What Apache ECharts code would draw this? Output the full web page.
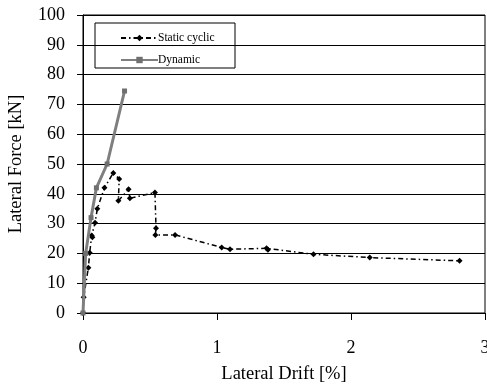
<!DOCTYPE html>
<html><head><meta charset="utf-8">
<script src="https://cdn.jsdelivr.net/npm/echarts@6/dist/echarts.min.js"></script>
<style>html,body{margin:0;padding:0;background:#fff}#c{width:487px;height:384px}</style>
</head><body><div id="c"></div>
<script>
const staticDrift = [0, 0.005, 0.04, 0.05, 0.065, 0.07, 0.09, 0.107, 0.16, 0.226, 0.27, 0.264, 0.34, 0.35, 0.537, 0.545, 0.54, 0.687, 1.035, 1.097, 1.37, 1.38, 1.72, 2.14, 2.81];
const staticForce = [0, 5.3, 15.2, 20.2, 26, 25.4, 30.3, 35, 42, 47, 45, 37.7, 41.5, 38.5, 40.4, 28.4, 26.2, 26.2, 22, 21.4, 21.7, 21.2, 19.7, 18.6, 17.5];
const dynDrift = [0, 0.02, 0.06, 0.1, 0.18, 0.31];
const dynForce = [0, 20, 32, 42, 50, 74.5];
const yTicks = [0,10,20,30,40,50,60,70,80,90,100];
const xTicks = [0,1,2,3];
const seriesNames = ['Static cyclic', 'Dynamic'];

const font = 'Liberation Serif';
const chart = echarts.init(document.getElementById('c'), null, {renderer:'canvas'});
chart.setOption({
  animation: false,
  backgroundColor: '#fff',
  grid: {left: 83, right: 2, top: 15, bottom: 71, show: true, borderColor: '#000', borderWidth: 1, backgroundColor: 'transparent', containLabel: false, outerBoundsMode: 'none'},
  legend: {
    orient: 'vertical', left: 115, top: 27, itemWidth: 37, itemHeight: 8, itemGap: 10,
    data: seriesNames,
    textStyle: {fontFamily: font, fontSize: 11.5, color: '#000', padding: [0,0,0,-5]}
  },
  graphic: [{type: 'rect', shape: {x: 95, y: 23, width: 140, height: 45}, style: {fill: '#fff', stroke: '#000', lineWidth: 1}, z: -1, zlevel: 0}],
  xAxis: {
    type: 'value', min: 0, max: 3, interval: 1,
    name: 'Lateral Drift [%]', nameLocation: 'middle', nameGap: 52,
    nameTextStyle: {fontFamily: font, fontSize: 18.5, color: '#000'},
    axisLine: {lineStyle: {color: '#000', width: 1}},
    axisTick: {show: true, length: 7, lineStyle: {color: '#000'}},
    axisLabel: {fontFamily: font, fontSize: 18, color: '#000', margin: 26, formatter: v => xTicks.includes(v) ? String(v) : ''},
    splitLine: {show: false}
  },
  yAxis: {
    type: 'value', min: 0, max: 100, interval: 10,
    name: 'Lateral Force [kN]', nameLocation: 'middle', nameGap: 57,
    nameTextStyle: {fontFamily: font, fontSize: 18.5, color: '#000'},
    axisLine: {lineStyle: {color: '#000', width: 1}},
    axisTick: {show: true, length: 6, lineStyle: {color: '#000'}},
    axisLabel: {fontFamily: font, fontSize: 18, color: '#000', margin: 18, formatter: v => yTicks.includes(v) ? String(v) : ''},
    splitLine: {show: true, lineStyle: {color: '#000', width: 1}}
  },
  series: [
    {
      name: seriesNames[0], type: 'line', z: 3,
      data: staticDrift.map((x, i) => [x, staticForce[i]]),
      lineStyle: {color: '#000', width: 1.5, type: [5, 3, 1.5, 3]},
      itemStyle: {color: '#000'},
      symbol: 'diamond', symbolSize: 6, showSymbol: true
    },
    {
      name: seriesNames[1], type: 'line', z: 4,
      data: dynDrift.map((x, i) => [x, dynForce[i]]),
      lineStyle: {color: '#7f7f7f', width: 3},
      itemStyle: {color: '#6f6f6f'},
      symbol: 'rect', symbolSize: 5, showSymbol: true
    }
  ]
});
</script></body></html>
